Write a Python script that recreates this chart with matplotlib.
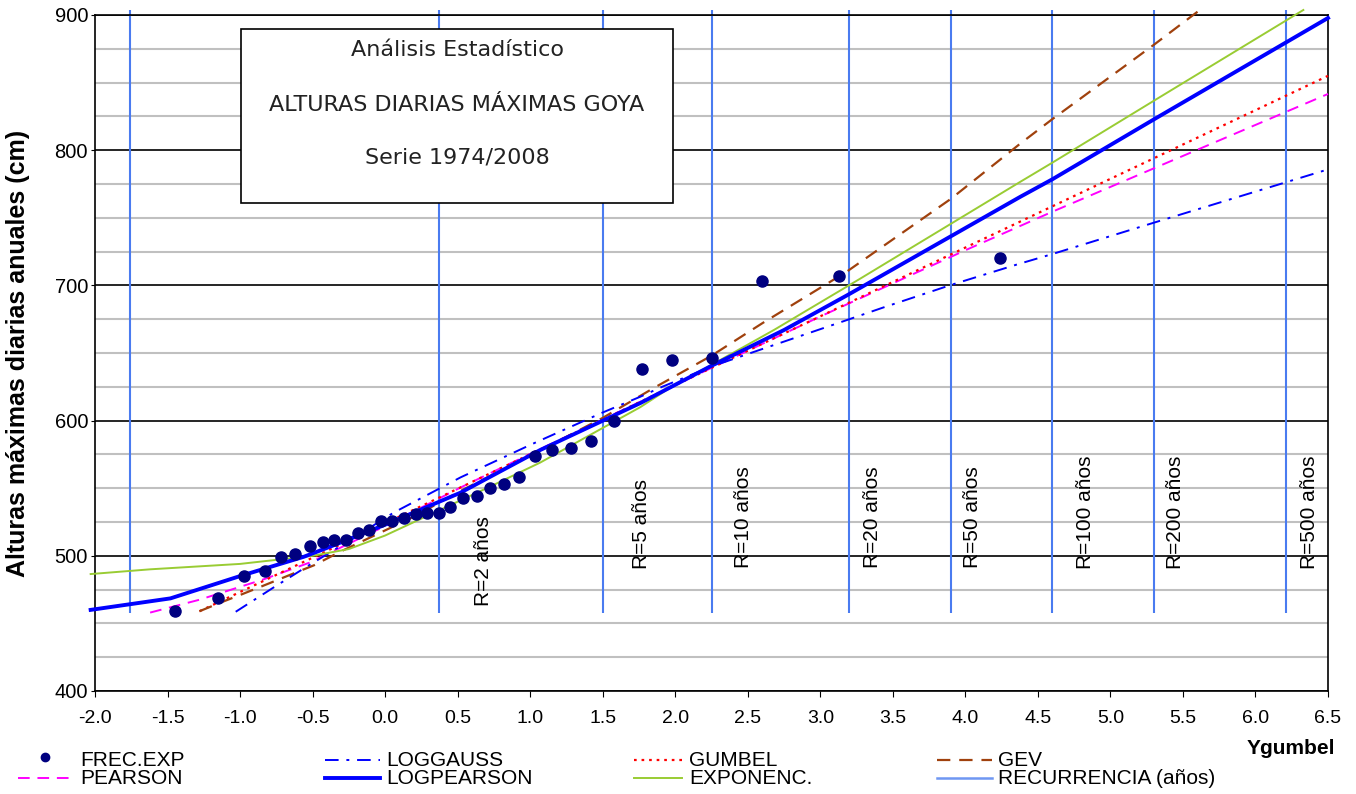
import numpy as np
import matplotlib.pyplot as plt
from matplotlib.lines import Line2D
from matplotlib.patches import Rectangle

plt.rcParams['font.family'] = ['Liberation Sans', 'DejaVu Sans']

# observed annual maxima (Ygumbel, height cm)
frec_y = [-1.45, -1.15, -0.97, -0.83, -0.72, -0.62, -0.52, -0.43, -0.35, -0.27,
          -0.19, -0.11, -0.03, 0.05, 0.13, 0.21, 0.29, 0.37, 0.45, 0.54,
          0.63, 0.72, 0.82, 0.92, 1.03, 1.15, 1.28, 1.42, 1.58, 1.77,
          1.98, 2.25, 2.60, 3.13, 4.24]
frec_h = [459, 469, 485, 489, 499, 501, 507, 510, 512, 512,
          517, 519, 526, 526, 528, 531, 532, 532, 536, 543,
          544, 550, 553, 558, 574, 578, 580, 585, 600, 638,
          645, 646, 703, 707, 720]

# fitted distributions
loggauss_y = [-1.03, -0.77, -0.54, -0.25, 0.06, 0.52, 0.70, 1.00, 1.50, 1.76,
              1.91, 2.25, 2.52, 3.13, 3.43, 3.90, 4.36, 4.60, 5.30, 6.50]
loggauss_h = [458.6, 476.5, 492, 511, 532, 558, 567, 582, 606, 617.7,
              625, 640, 650, 672.4, 683.5, 700.3, 715.6, 723.2, 746.4, 785.8]

gumbel_y = [-1.28, 0.0, 2.25, 4.60, 6.50]
gumbel_h = [459, 524, 639, 758.5, 855]

gev_y = [-1.28, -1.12, -1.00, -0.86, -0.63, -0.49, -0.31, 0.20, 0.52, 1.00,
         1.50, 1.85, 2.25, 2.60, 3.18, 3.90, 4.38, 4.60, 5.30, 5.62]
gev_h = [459, 466, 471, 477, 487, 493, 503, 529, 548, 574,
         602, 624, 648, 672, 710, 764, 805, 823, 878, 904]

pearson_y = [-1.62, -1.28, -0.84, -0.52, 0.0, 0.52, 1.07, 1.76, 2.25, 3.00,
             4.00, 4.60, 5.30, 6.50]
pearson_h = [458, 467.5, 482.5, 495, 522, 550.5, 579, 614, 639, 677,
             726, 754.5, 786.6, 841.6]

logpearson_y = [-2.03, -1.48, -1.00, -0.56, -0.38, 0.0, 0.52, 1.07, 1.76, 2.24,
                2.75, 3.19, 4.38, 4.60, 5.30, 6.50]
logpearson_h = [460, 468.5, 485, 499.3, 506.7, 523, 546.7, 578.3, 613, 640,
                667, 693, 765.6, 778.5, 822.8, 897.8]

expon_y = [-2.03, -1.62, -1.00, -0.50, -0.25, 0.0, 0.52, 0.72, 1.07, 1.76,
           1.94, 2.68, 3.28, 4.38, 4.60, 5.30, 6.33]
expon_h = [486.5, 490, 494, 500, 505, 515, 541, 551, 569, 610,
           622.6, 667, 705.3, 776.7, 790.8, 836.6, 903.7]

# return period lines
rec_y = [-1.76, 0.37, 1.50, 2.25, 3.20, 3.90, 4.60, 5.30, 6.21]
rec_labels = ['R=2 años', 'R=5 años', 'R=10 años', 'R=20 años', 'R=50 años',
              'R=100 años', 'R=200 años', 'R=500 años']
label_x = [0.68, 1.77, 2.47, 3.36, 4.05, 4.83, 5.45, 6.37]
label_base = [463, 490, 491, 491, 491, 490, 490, 490]

styles = {
    'PEARSON': dict(color='#ff00ff', lw=1.4, ls=(0, (6, 4))),
    'GUMBEL': dict(color='#ff0000', lw=1.6, ls=(0, (1.2, 2.2))),
    'GEV': dict(color='#a0410d', lw=1.6, ls=(0, (6, 4))),
    'LOGGAUSS': dict(color='#0000ff', lw=1.4, ls=(0, (7, 4, 1.5, 4))),
    'EXPONENC.': dict(color='#99cc33', lw=1.4, ls='-'),
    'LOGPEARSON': dict(color='#0000ff', lw=2.8, ls='-'),
}

W, H = 1356, 794
fig = plt.figure(figsize=(W / 100, H / 100), dpi=100, facecolor='white')
ax = fig.add_axes([95 / W, 1 - 691 / H, (1328 - 95) / W, (691 - 15) / H])

ax.set_xlim(-2.0, 6.5)
ax.set_ylim(400, 900)
ax.set_xticks(np.arange(-2.0, 6.51, 0.5))
ax.set_xticklabels([f'{v:.1f}' for v in np.arange(-2.0, 6.51, 0.5)])
ax.set_yticks(np.arange(400, 901, 100))
ax.set_yticks(np.arange(400, 901, 25), minor=True)
ax.yaxis.grid(True, which='minor', color='#c0c0c0', lw=1.5, zorder=0)
ax.yaxis.grid(True, which='major', color='black', lw=1.2, zorder=0)
ax.set_axisbelow(True)
ax.tick_params(axis='x', labelsize=14, length=4, pad=10, direction='out')
ax.tick_params(axis='y', labelsize=14.5, length=3, pad=2, direction='out')
ax.tick_params(axis='y', which='minor', length=0)
for sp in ax.spines.values():
    sp.set_color('black')
    sp.set_linewidth(1.2)

ax.set_ylabel('Alturas máximas diarias anuales (cm)', fontsize=18, fontweight='bold')
ax.yaxis.set_label_coords(-0.053, 0.5)

ax.vlines(rec_y, 458, 903.5, colors='#4a7bf0', lw=1.5, clip_on=False, zorder=2)
for x, lab, base in zip(label_x, rec_labels, label_base):
    ax.text(x, base, lab, rotation=90, ha='center', va='bottom', fontsize=15, zorder=3)

# title box
ax.add_patch(Rectangle((0.1184, 0.7219), 0.3504, 0.2574, transform=ax.transAxes,
                       facecolor='white', edgecolor='black', lw=1.2, zorder=3))
for ty, txt in zip([0.948, 0.867, 0.7885],
                   ['Análisis Estadístico', 'ALTURAS DIARIAS MÁXIMAS GOYA', 'Serie 1974/2008']):
    ax.text(0.2936, ty, txt, transform=ax.transAxes, ha='center', va='center',
            fontsize=16, family='DejaVu Sans', color='#222222', zorder=4)

ax.plot(pearson_y, pearson_h, clip_on=False, zorder=5, **styles['PEARSON'])
ax.plot(gumbel_y, gumbel_h, clip_on=False, zorder=5, **styles['GUMBEL'])
ax.plot(gev_y, gev_h, clip_on=False, zorder=5, **styles['GEV'])
ax.plot(loggauss_y, loggauss_h, clip_on=False, zorder=5, **styles['LOGGAUSS'])
ax.plot(expon_y, expon_h, clip_on=False, zorder=5, **styles['EXPONENC.'])
ax.plot(logpearson_y, logpearson_h, clip_on=False, zorder=6, **styles['LOGPEARSON'])
ax.plot(frec_y, frec_h, 'o', color='#000080', ms=8, zorder=7, clip_on=False)

ax.text(1335 / W, 1 - 748 / H, 'Ygumbel', transform=fig.transFigure, ha='right',
        va='center', fontsize=15, fontweight='bold')

# legend drawn by hand in figure pixels
def fx(px):
    return px / W

def fy(py):
    return 1 - py / H

items = [
    (18, 73, 80, 760, 'FREC.EXP'),
    (18, 73, 80, 778, 'PEARSON'),
    (325, 380, 386, 760, 'LOGGAUSS'),
    (325, 380, 386, 778, 'LOGPEARSON'),
    (634, 682, 689, 760, 'GUMBEL'),
    (634, 682, 689, 778, 'EXPONENC.'),
    (937, 992, 998, 760, 'GEV'),
    (937, 992, 998, 778, 'RECURRENCIA (años)'),
]
for x0, x1, xt, yy, txt in items:
    if txt == 'FREC.EXP':
        fig.add_artist(Line2D([fx(45)], [fy(yy - 3)], marker='o', color='#000080', ms=6,
                              transform=fig.transFigure))
    elif txt.startswith('RECURRENCIA'):
        fig.add_artist(Line2D([fx(x0), fx(x1)], [fy(yy), fy(yy)], color='#6f97f2', lw=1.8,
                              transform=fig.transFigure))
    else:
        fig.add_artist(Line2D([fx(x0), fx(x1)], [fy(yy), fy(yy)],
                              transform=fig.transFigure, **styles[txt]))
    fig.text(fx(xt), fy(yy), txt, ha='left', va='center', fontsize=15)

fig.savefig('out.png', dpi=100, facecolor='white')
